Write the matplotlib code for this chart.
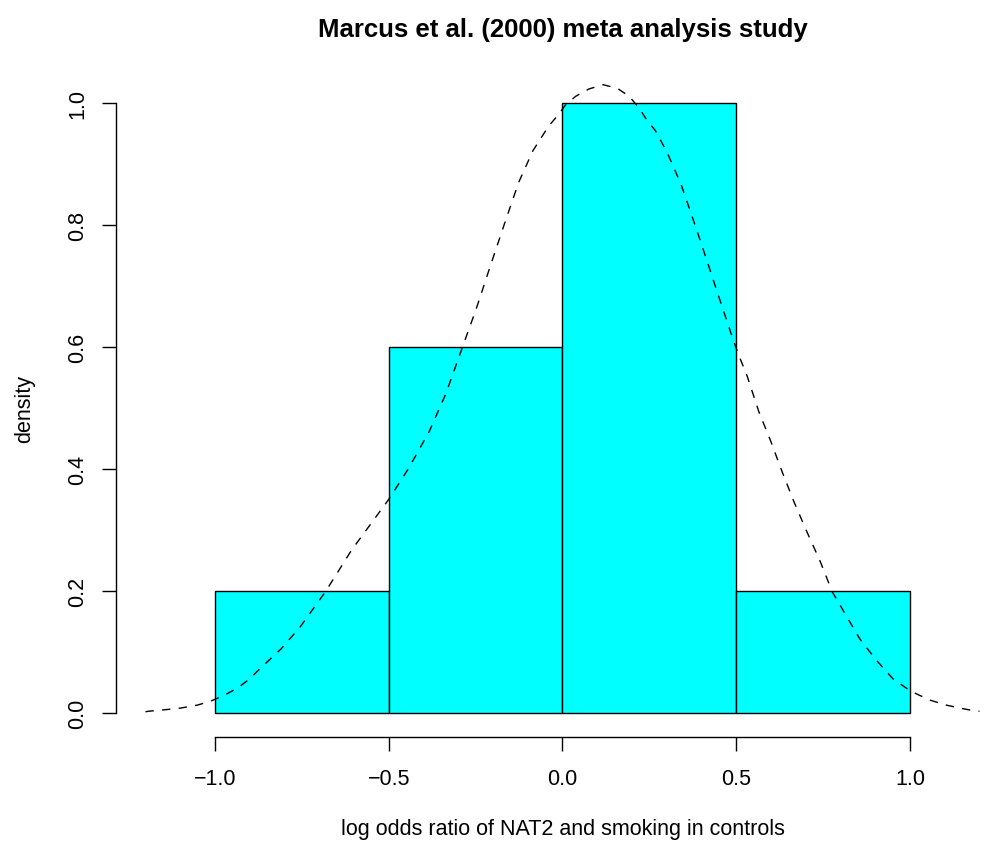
import numpy as np
import matplotlib
matplotlib.use("Agg")
import matplotlib.pyplot as plt

# Data
bin_edges = [-1.0, -0.5, 0.0, 0.5, 1.0]
densities = [0.2, 0.6, 1.0, 0.2]

# dashed density curve
curve_x = [-1.200, -1.190, -1.150, -1.100, -1.050, -1.010, -0.970, -0.935, -0.900,
           -0.870, -0.810, -0.755, -0.682, -0.607, -0.553, -0.499, -0.444, -0.383,
           -0.336, -0.289, -0.248, -0.207, -0.167, -0.126, -0.085, -0.040, -0.016,
           0.009, 0.038, 0.076, 0.117, 0.158, 0.192, 0.220, 0.244, 0.267, 0.301,
           0.341, 0.382, 0.416, 0.450, 0.484, 0.504, 0.531, 0.565, 0.599, 0.633,
           0.667, 0.701, 0.742, 0.776, 0.816, 0.856, 0.904, 0.951, 0.999, 1.020,
           1.058, 1.104, 1.144, 1.190, 1.200]
curve_y = [0.002, 0.003, 0.005, 0.008, 0.013, 0.020, 0.030, 0.041, 0.056,
           0.073, 0.105, 0.141, 0.199, 0.267, 0.309, 0.351, 0.400, 0.462,
           0.523, 0.598, 0.663, 0.734, 0.802, 0.870, 0.922, 0.962, 0.978,
           0.997, 1.011, 1.023, 1.030, 1.024, 1.011, 0.992, 0.971, 0.955, 0.919,
           0.867, 0.799, 0.741, 0.682, 0.624, 0.591, 0.553, 0.494, 0.446, 0.394,
           0.345, 0.300, 0.248, 0.199, 0.160, 0.121, 0.086, 0.056, 0.037, 0.031,
           0.021, 0.013, 0.008, 0.003, 0.003]

x_ticks = [-1.0, -0.5, 0.0, 0.5, 1.0]
x_tick_labels = ["\u22121.0", "\u22120.5", "0.0", "0.5", "1.0"]
y_ticks = [0.0, 0.2, 0.4, 0.6, 0.8, 1.0]
y_tick_labels = ["0.0", "0.2", "0.4", "0.6", "0.8", "1.0"]

plt.rcParams['font.family'] = ['Liberation Sans', 'DejaVu Sans']

W, H = 987, 845
fig = plt.figure(figsize=(W / 100, H / 100), dpi=100)

ax_left_px, ax_right_px = 116, 987
ax_top_px, ax_bottom_px = 79.6, 738.4
ax = fig.add_axes([ax_left_px / W, 1 - ax_bottom_px / H,
                   (ax_right_px - ax_left_px) / W, (ax_bottom_px - ax_top_px) / H])

px_per_x = 347.5
x0 = 562.5
ax.set_xlim((ax_left_px - x0) / px_per_x, (ax_right_px - x0) / px_per_x)
ax.set_ylim(-0.04, 1.04)

widths = np.diff(bin_edges)
ax.bar(bin_edges[:-1], densities, width=widths, align='edge',
       color='#00FFFF', edgecolor='black', linewidth=1.0)

ax.plot(curve_x, curve_y, color='black', linewidth=1.0, linestyle=(0, (6, 6)),
        clip_on=False, solid_joinstyle='round', dash_joinstyle='round')

for s in ['top', 'right']:
    ax.spines[s].set_visible(False)
ax.spines['left'].set_bounds(0.0, 1.0)
ax.spines['bottom'].set_bounds(-1.0, 1.0)
for s in ['left', 'bottom']:
    ax.spines[s].set_linewidth(1.0)

ax.set_xticks(x_ticks)
ax.set_xticklabels(x_tick_labels)
ax.set_yticks(y_ticks)
ax.set_yticklabels(y_tick_labels, rotation=90, va='center')
ax.tick_params(axis='both', length=10, width=1.0, labelsize=15.5, direction='out')
ax.tick_params(axis='x', pad=12)
ax.tick_params(axis='y', pad=10)

fig.text(562.5 / W, 1 - 830 / H, "log odds ratio of NAT2 and smoking in controls",
         ha='center', va='center', fontsize=15.5)
fig.text(25 / W, 1 - 409 / H, "density", ha='center', va='center', rotation=90, fontsize=15.5)
fig.text(562.5 / W, 1 - 30 / H, "Marcus et al. (2000) meta analysis study",
         ha='center', va='center', fontsize=18.5, fontweight='bold')

fig.savefig("out.png", dpi=100)
